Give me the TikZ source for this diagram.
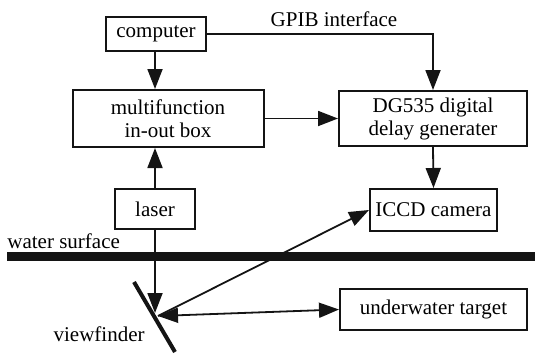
\documentclass[tikz,border=0pt]{standalone}
\usepackage{fontspec}
\setmainfont{Liberation Serif}
\usetikzlibrary{arrows.meta,calc}
\definecolor{LineClr}{RGB}{20,20,20}

\begin{document}
\begin{tikzpicture}[x=0.5pt,y=-0.5pt,
  box/.style={draw=LineClr,line width=1pt,align=center,inner sep=0pt,
    font=\rmfamily\fontsize{10.5}{11.5}\selectfont},
  arr/.style={line width=0.9pt,color=LineClr,-{Triangle[length=10pt,width=7.5pt]}},
  lbl/.style={font=\rmfamily\fontsize{10.5}{11.5}\selectfont,inner sep=0pt}]
\useasboundingbox (0,0) rectangle (535,354);

\node[box,minimum width=50pt,minimum height=17pt] (Comp) at (156,34) {computer};
\node[box,minimum width=95.5pt,minimum height=28.5pt] (Box) at (168,118.5) {multifunction\\in-out box};
\node[box,minimum width=94pt,minimum height=27.5pt] (DG) at (433,118.5) {DG535 digital\\delay generater};
\node[box,minimum width=63.5pt,minimum height=21pt] (ICCD) at (433.5,210) {ICCD camera};
\node[box,minimum width=40pt,minimum height=20pt] (Laser) at (155,209) {laser};
\node[box,minimum width=93.5pt,minimum height=20.5pt] (Target) at (433.5,309.5) {underwater target};

% water surface and viewfinder
\draw[line width=4.5pt,color=LineClr] (7,256.5) -- (535,256.5);
\node[lbl,anchor=west] (Water) at (7,241) {water surface};
\draw[line width=2pt,color=LineClr] (134,282) -- (175,352);
\coordinate (VF) at (155,316);
\coordinate (CompBot) at (155,51);
\node[lbl,anchor=east] (VFlbl) at (145,334) {viewfinder};

% connections
\draw[arr] (CompBot) -- (CompBot |- Box.north);
\draw[arr] (Laser.north) -- (Laser.north |- Box.south);
\draw[arr] (Box.east) -- (DG.west);
\draw[arr] (Comp.east) -| (DG.north);
\node[lbl] (GPIB) at (334,19) {GPIB interface};
\draw[arr] (DG.south) -- (ICCD.north);
\draw[arr] (Laser.south) -- ($(VF)+(0,-3)$);
\draw[arr] ($(VF)+(3,0)$) -- (ICCD.west);
\draw[line width=0.9pt,color=LineClr,{Triangle[length=10pt,width=7.5pt]}-{Triangle[length=10pt,width=7.5pt]}] ($(VF)+(3,0)$) -- (Target.west);

\end{tikzpicture}
\end{document}
